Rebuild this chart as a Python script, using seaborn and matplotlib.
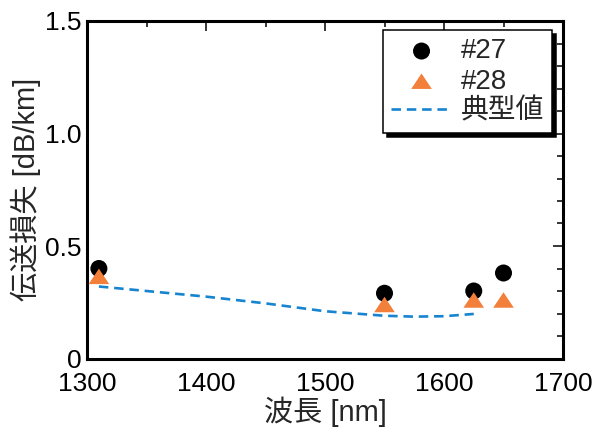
import matplotlib
matplotlib.use("Agg")
import matplotlib.pyplot as plt
import seaborn as sns
import pandas as pd
import numpy as np
from matplotlib.ticker import MultipleLocator

sns.set_theme(style="white")
plt.rcParams['font.family'] = ['Liberation Sans', 'Noto Sans CJK JP', 'DejaVu Sans']

wl27 = [1310, 1550, 1625, 1650]
loss27 = [0.40, 0.29, 0.30, 0.38]
wl28 = [1310, 1550, 1625, 1650]
loss28 = [0.365, 0.24, 0.26, 0.26]
wl_typ = [1310, 1350, 1400, 1450, 1500, 1550, 1575, 1600, 1625]
loss_typ = [0.32, 0.30, 0.275, 0.245, 0.21, 0.19, 0.186, 0.188, 0.198]

df27 = pd.DataFrame({"wl": wl27, "loss": loss27})
df28 = pd.DataFrame({"wl": wl28, "loss": loss28})
dft = pd.DataFrame({"wl": wl_typ, "loss": loss_typ})

tri = [(-1, -0.75), (1, -0.75), (0, 0.75), (-1, -0.75)]

fig = plt.figure(figsize=(6.04, 4.37), dpi=100)
ax = fig.add_axes([87/604, 1 - 358.5/437, (563-87)/604, (358.5-21)/437])

sns.lineplot(data=dft, x="wl", y="loss", ax=ax, color="#1784D0", lw=1.9,
             linestyle=(0, (3.6, 2.2)), label="典型値", zorder=2)
sns.scatterplot(data=df27, x="wl", y="loss", ax=ax, color="black", marker="o",
                s=150, edgecolor="none", label="#27", zorder=3)
sns.scatterplot(data=df28, x="wl", y="loss", ax=ax, color="#F27F3A", marker=tri,
                s=220, edgecolor="none", label="#28", zorder=4)

ax.set_xlim(1300, 1700)
ax.set_ylim(0, 1.5)
ax.xaxis.set_major_locator(MultipleLocator(100))
ax.xaxis.set_minor_locator(MultipleLocator(50))
ax.yaxis.set_minor_locator(MultipleLocator(0.1))
ax.set_yticks([0, 0.5, 1.0, 1.5])
ax.set_yticklabels(["0", "0.5", "1.0", "1.5"])
ax.tick_params(which="both", direction="in", top=True, right=True, labelsize=19,
               width=1.1, colors="black")
ax.tick_params(axis="x", which="both", pad=10)
ax.tick_params(axis="y", which="both", pad=4)
ax.tick_params(which="major", length=7)
ax.tick_params(which="minor", length=4)
for s in ax.spines.values():
    s.set_linewidth(2.2)
    s.set_color("black")

ax.set_xlabel("波長 [nm]", fontsize=21, labelpad=0)
ax.set_ylabel("伝送損失 [dB/km]", fontsize=21, labelpad=3)

handles, labels = ax.get_legend_handles_labels()
order = [labels.index("#27"), labels.index("#28"), labels.index("典型値")]
leg = ax.legend([handles[i] for i in order], [labels[i] for i in order],
                loc="upper right", bbox_to_anchor=(552/604, 1 - 30/437),
                bbox_transform=fig.transFigure, fontsize=20,
                frameon=True, fancybox=False,
                shadow={"color": "black", "ox": 3, "oy": -3, "alpha": 1},
                framealpha=1, edgecolor="black", handlelength=2.2,
                handletextpad=0.3, labelspacing=0.15, borderpad=0.3,
                borderaxespad=0)
leg.get_frame().set_linewidth(1.1)

fig.savefig("out.png", dpi=100)
